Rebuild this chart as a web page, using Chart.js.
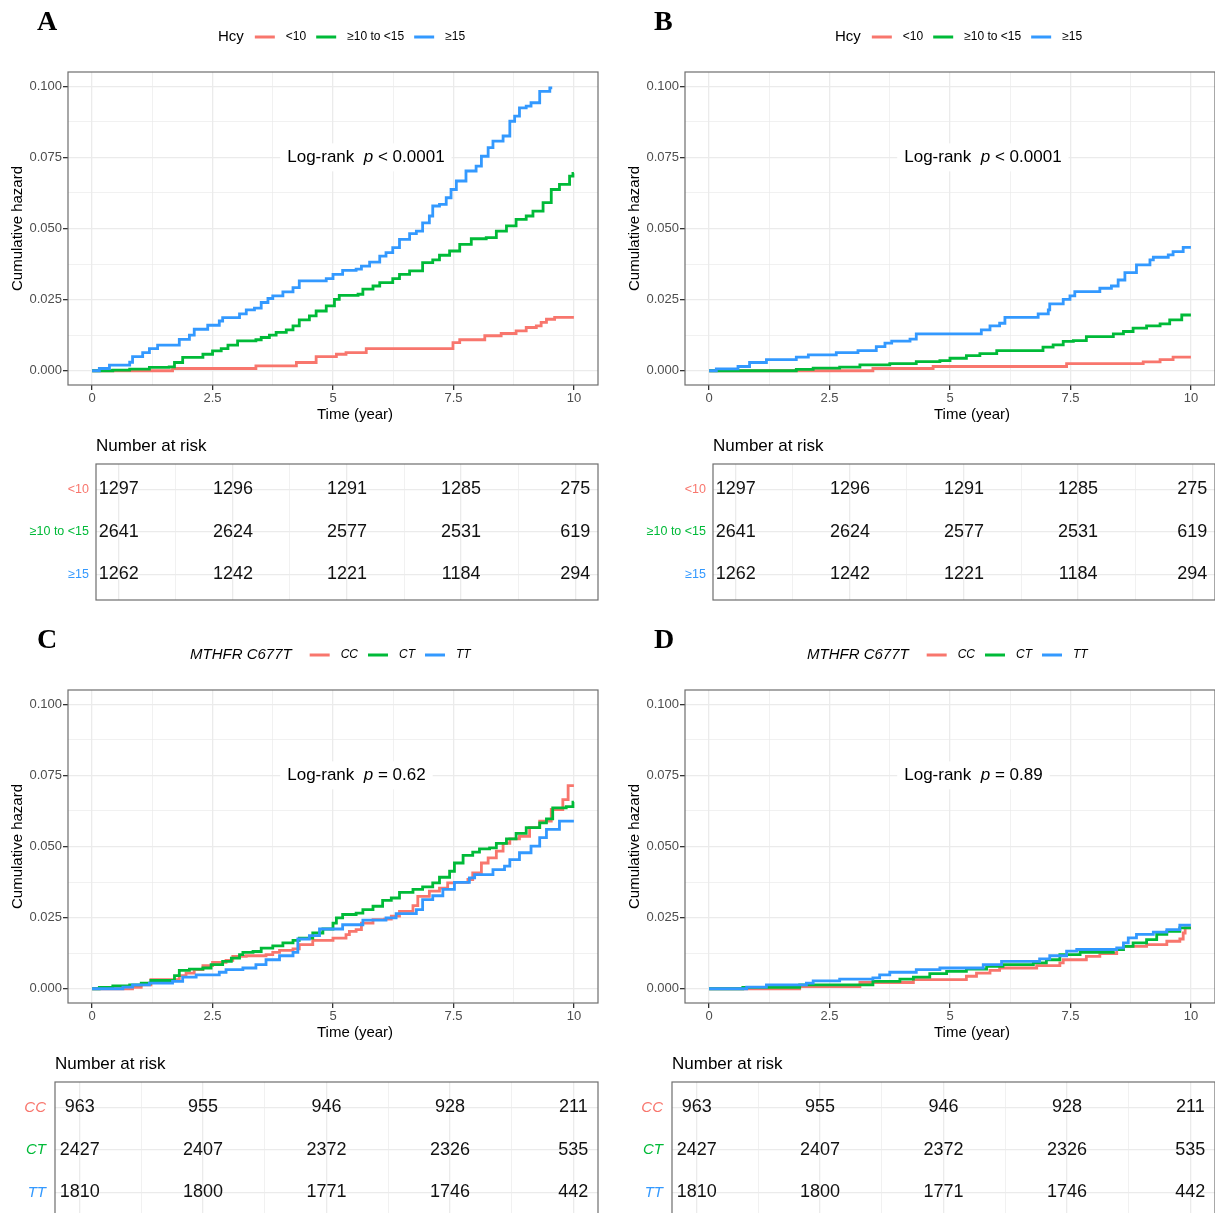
<!DOCTYPE html>
<html>
<head>
<meta charset="utf-8">
<script src="https://cdn.jsdelivr.net/npm/chart.js@4.4.1/dist/chart.umd.min.js"></script>
<style>
  html, body { margin: 0; padding: 0; background: #fff; overflow: hidden; width: 1215px; height: 1213px; }
  canvas { position: absolute; }
</style>
</head>
<body>
<script>
const FONT = '"Liberation Sans", Arial, sans-serif';
const RED = "#F8766D", GREEN = "#00BA38", BLUE = "#3399FF";

// axis ticks (major labelled, minor only gridlines)
const xMajor = [0, 2.5, 5, 7.5, 10];
const xMinor = [1.25, 3.75, 6.25, 8.75];
const xLabels = ["0", "2.5", "5", "7.5", "10"];
const yMajor = [0, 0.025, 0.05, 0.075, 0.1];
const yMinor = [0.0125, 0.0375, 0.0625, 0.0875];
const yLabels = ["0.000", "0.025", "0.050", "0.075", "0.100"];

// group labels
const hcyGroups = ["<10", "≥10 to <15", "≥15"];
const mthfrGroups = ["CC", "CT", "TT"];

// number at risk
const riskTimes = [0, 2.5, 5, 7.5, 10];
const hcyRiskLow = [1297, 1296, 1291, 1285, 275];
const hcyRiskMid = [2641, 2624, 2577, 2531, 619];
const hcyRiskHigh = [1262, 1242, 1221, 1184, 294];
const mthfrRiskCC = [963, 955, 946, 928, 211];
const mthfrRiskCT = [2427, 2407, 2372, 2326, 535];
const mthfrRiskTT = [1810, 1800, 1771, 1746, 442];

// cumulative hazard steps [time, value]
const aLow = [[0,0],[1.67,0.0008],[3.4,0.0017],[4.24,0.0029],[4.65,0.005],[5.07,0.0058],[5.27,0.0064],[5.69,0.0078],[7.49,0.0099],[7.63,0.0109],[8.15,0.0123],[8.49,0.0131],[8.8,0.014],[9.01,0.0152],[9.22,0.0158],[9.32,0.017],[9.43,0.0181],[9.6,0.0188],[10,0.0188]];
const aMid = [[0,0],[0.43,0.0002],[0.78,0.0006],[1.19,0.0012],[1.6,0.0014],[1.71,0.0029],[1.88,0.0047],[2.3,0.0058],[2.5,0.007],[2.68,0.0078],[2.82,0.009],[3.02,0.0105],[3.4,0.0109],[3.51,0.0117],[3.68,0.0125],[3.82,0.0135],[4.03,0.0144],[4.17,0.0158],[4.3,0.0179],[4.51,0.0193],[4.65,0.021],[4.86,0.0228],[5.03,0.0251],[5.13,0.0265],[5.52,0.0269],[5.62,0.0287],[5.83,0.0298],[5.97,0.031],[6.24,0.0324],[6.38,0.0339],[6.59,0.0351],[6.86,0.038],[7.07,0.039],[7.21,0.0406],[7.42,0.0421],[7.63,0.0444],[7.87,0.0464],[8.18,0.0468],[8.39,0.0491],[8.6,0.0509],[8.8,0.0532],[9.01,0.0544],[9.15,0.0561],[9.36,0.0591],[9.53,0.0637],[9.7,0.0655],[9.91,0.0684],[9.98,0.0694],[10,0.0694]];
const aHigh = [[0,0],[0.15,0.0008],[0.36,0.002],[0.78,0.003],[0.84,0.005],[1.05,0.0064],[1.19,0.0078],[1.36,0.009],[1.81,0.011],[2.02,0.0125],[2.12,0.0146],[2.4,0.016],[2.64,0.0175],[2.71,0.0187],[3.06,0.02],[3.2,0.0214],[3.37,0.022],[3.51,0.024],[3.65,0.0254],[3.75,0.0263],[3.96,0.0277],[4.17,0.0292],[4.3,0.0316],[4.86,0.0324],[5.0,0.0339],[5.2,0.0353],[5.48,0.0357],[5.59,0.0368],[5.76,0.0382],[5.97,0.0403],[6.1,0.0415],[6.24,0.0433],[6.38,0.0462],[6.59,0.0482],[6.73,0.0491],[6.86,0.052],[7.0,0.0544],[7.07,0.0579],[7.21,0.0585],[7.35,0.0608],[7.45,0.0637],[7.56,0.0667],[7.76,0.0702],[7.97,0.0719],[8.08,0.0754],[8.22,0.0784],[8.32,0.0807],[8.53,0.0825],[8.67,0.0877],[8.77,0.0895],[8.87,0.0924],[9.01,0.093],[9.11,0.0942],[9.29,0.0982],[9.5,0.0994],[9.55,0.0994]];

const bLow = [[0,0],[3.4,0.0008],[4.65,0.0015],[7.42,0.0025],[9.01,0.0031],[9.36,0.0039],[9.63,0.0048],[10,0.0048]];
const bMid = [[0,0],[1.81,0.0005],[2.16,0.0009],[2.71,0.0013],[3.13,0.0021],[3.75,0.0025],[4.3,0.0032],[4.79,0.0036],[5.0,0.0044],[5.34,0.0053],[5.62,0.006],[5.97,0.0071],[6.93,0.0083],[7.14,0.0091],[7.35,0.0103],[7.56,0.0106],[7.83,0.012],[8.39,0.013],[8.6,0.0138],[8.8,0.015],[9.08,0.0158],[9.36,0.0165],[9.56,0.0179],[9.81,0.0196],[10,0.0196]];
const bHigh = [[0,0],[0.15,0.0007],[0.6,0.0015],[0.84,0.0029],[1.19,0.0039],[1.81,0.0048],[2.06,0.0056],[2.64,0.0064],[3.09,0.0071],[3.47,0.0085],[3.65,0.0097],[3.79,0.0104],[4.17,0.0111],[4.3,0.013],[5.65,0.0144],[5.83,0.0158],[6.03,0.0167],[6.14,0.0188],[6.83,0.02],[7.04,0.0214],[7.07,0.0235],[7.35,0.0251],[7.49,0.0263],[7.59,0.0278],[8.11,0.029],[8.35,0.0298],[8.49,0.0319],[8.63,0.0345],[8.87,0.0372],[9.15,0.039],[9.22,0.0399],[9.53,0.0407],[9.63,0.0419],[9.84,0.0434],[10,0.0434]];

const cCC = [[0,0],[0.84,0.0005],[1.02,0.0014],[1.22,0.0032],[1.81,0.0046],[1.95,0.0055],[2.12,0.0067],[2.3,0.0081],[2.5,0.0093],[2.78,0.01],[2.92,0.0114],[3.2,0.0116],[3.61,0.012],[3.75,0.0128],[3.89,0.0135],[4.17,0.014],[4.3,0.0155],[4.58,0.017],[5.0,0.0178],[5.27,0.019],[5.34,0.0202],[5.48,0.0208],[5.59,0.0231],[5.83,0.0243],[6.07,0.0245],[6.21,0.0255],[6.38,0.0272],[6.66,0.0292],[6.76,0.0325],[7.0,0.0343],[7.21,0.0354],[7.38,0.0372],[7.52,0.0374],[7.8,0.0384],[7.9,0.0407],[8.08,0.0442],[8.22,0.046],[8.39,0.0484],[8.53,0.0511],[8.67,0.0527],[8.87,0.0536],[9.08,0.0566],[9.29,0.0589],[9.53,0.063],[9.77,0.0665],[9.88,0.0714],[10,0.0714]];
const cCT = [[0,0],[0.15,0.0005],[0.43,0.001],[0.78,0.0014],[1.02,0.002],[1.22,0.0029],[1.71,0.0046],[1.81,0.0065],[2.02,0.0069],[2.3,0.0073],[2.47,0.0085],[2.71,0.0096],[2.89,0.0108],[3.06,0.012],[3.13,0.0128],[3.34,0.0131],[3.51,0.0143],[3.75,0.0151],[3.96,0.0161],[4.17,0.017],[4.3,0.0178],[4.58,0.0196],[4.79,0.021],[5.0,0.0231],[5.07,0.0249],[5.2,0.0261],[5.48,0.0266],[5.62,0.0278],[5.83,0.029],[6.03,0.0311],[6.21,0.0319],[6.38,0.0339],[6.66,0.0349],[6.86,0.0358],[7.07,0.0372],[7.21,0.0392],[7.42,0.0413],[7.52,0.0442],[7.7,0.0469],[7.9,0.048],[8.04,0.0492],[8.25,0.0495],[8.39,0.0511],[8.6,0.0527],[8.8,0.0546],[9.01,0.0566],[9.29,0.0583],[9.43,0.0597],[9.56,0.0636],[9.84,0.064],[9.98,0.0656],[10,0.0656]];
const cTT = [[0,0],[0.64,0.0006],[0.84,0.0014],[1.19,0.002],[1.67,0.0026],[1.88,0.0041],[2.16,0.0049],[2.64,0.0058],[2.78,0.0067],[3.13,0.0073],[3.4,0.0085],[3.61,0.0102],[3.89,0.0116],[4.17,0.0128],[4.27,0.0175],[4.51,0.0187],[4.72,0.021],[5.2,0.0225],[5.62,0.0241],[6.1,0.0249],[6.31,0.0264],[6.73,0.0278],[6.86,0.0313],[7.07,0.0327],[7.28,0.0349],[7.52,0.0374],[7.83,0.039],[7.94,0.0401],[8.32,0.0419],[8.56,0.0431],[8.67,0.0454],[8.87,0.0478],[9.11,0.0501],[9.29,0.0531],[9.43,0.056],[9.7,0.0589],[10,0.0589]];

const dCC = [[0,0],[1.88,0.0008],[3.13,0.0022],[4.24,0.0032],[5.34,0.0044],[5.55,0.0055],[5.83,0.0065],[6.03,0.0073],[6.8,0.0081],[7.28,0.0091],[7.35,0.0102],[7.83,0.0114],[8.11,0.0124],[8.46,0.0138],[8.6,0.0149],[9.08,0.0155],[9.5,0.0167],[9.77,0.0175],[9.84,0.0196],[9.88,0.0214],[10,0.0214]];
const dCT = [[0,0],[0.7,0.0005],[1.88,0.0014],[3.4,0.0026],[3.96,0.0034],[4.24,0.0041],[4.58,0.0053],[4.93,0.0061],[5.34,0.0069],[5.76,0.0079],[6.1,0.0085],[6.73,0.0091],[7.0,0.0102],[7.28,0.012],[7.7,0.0128],[8.39,0.0138],[8.6,0.0149],[8.8,0.0161],[9.08,0.0173],[9.29,0.0191],[9.5,0.0202],[9.77,0.0214],[10,0.0214]];
const dTT = [[0,0],[0.78,0.0006],[1.19,0.0014],[2.02,0.002],[2.16,0.0028],[2.71,0.0034],[3.4,0.0038],[3.54,0.0049],[3.75,0.0058],[4.3,0.0067],[4.79,0.0073],[5.69,0.0085],[6.07,0.0096],[6.86,0.0105],[7.07,0.0116],[7.42,0.0132],[7.63,0.0138],[8.46,0.0144],[8.6,0.0161],[8.7,0.0179],[8.87,0.0191],[9.22,0.0199],[9.5,0.0208],[9.77,0.0224],[10,0.0224]];

const panels = [
  { letter: "A", ox: 0, oy: 0, title: "Hcy", italic: false, legendX: 218, titleGap: 11, groups: hcyGroups,
    curves: [aLow, aMid, aHigh], risk: [hcyRiskLow, hcyRiskMid, hcyRiskHigh], tableLeft: 96, pText: " < 0.0001" },
  { letter: "B", ox: 617, oy: 0, title: "Hcy", italic: false, legendX: 218, titleGap: 11, groups: hcyGroups,
    curves: [bLow, bMid, bHigh], risk: [hcyRiskLow, hcyRiskMid, hcyRiskHigh], tableLeft: 96, pText: " < 0.0001" },
  { letter: "C", ox: 0, oy: 618, title: "MTHFR C677T", italic: true, legendX: 190, titleGap: 18, groups: mthfrGroups,
    curves: [cCC, cCT, cTT], risk: [mthfrRiskCC, mthfrRiskCT, mthfrRiskTT], tableLeft: 55, pText: " = 0.62" },
  { letter: "D", ox: 617, oy: 618, title: "MTHFR C677T", italic: true, legendX: 190, titleGap: 18, groups: mthfrGroups,
    curves: [dCC, dCT, dTT], risk: [mthfrRiskCC, mthfrRiskCT, mthfrRiskTT], tableLeft: 55, pText: " = 0.89" }
];
const groupColors = [RED, GREEN, BLUE];

function makeCanvas(left, top, w, h) {
  const c = document.createElement("canvas");
  c.width = w; c.height = h;
  c.style.left = left + "px"; c.style.top = top + "px";
  c.style.width = w + "px"; c.style.height = h + "px";
  document.body.appendChild(c);
  return c;
}

function setTicks(major, minor) {
  return scale => {
    scale.ticks = major.concat(minor).sort((a, b) => a - b)
      .map(v => ({ value: v, major: major.includes(v) }));
  };
}

function gridOpts(withTicks) {
  return {
    color: "#ebebeb",
    lineWidth: c => (c.tick && c.tick.major ? 1.3 : 0.7),
    drawTicks: withTicks,
    tickLength: 5,
    tickColor: c => (c.tick && c.tick.major ? "#333" : "rgba(0,0,0,0)")
  };
}

function plotDeco(p) {
  return {
    id: "deco",
    afterDatasetsDraw(chart) {
      const ctx = chart.ctx;
      const xs = chart.scales.x, ys = chart.scales.y;
      // log-rank label with white box
      const parts = [["Log-rank  ", ""], ["p", "italic "], [p.pText, ""]];
      ctx.save();
      ctx.textBaseline = "middle";
      let w = 0;
      parts.forEach(pt => { ctx.font = pt[1] + "17px " + FONT; w += ctx.measureText(pt[0]).width; });
      let x = xs.getPixelForValue(4.05);
      const y = ys.getPixelForValue(0.075);
      ctx.fillStyle = "#fff";
      ctx.fillRect(x - 7, y - 14, w + 14, 28);
      ctx.fillStyle = "#000";
      parts.forEach(pt => {
        ctx.font = pt[1] + "17px " + FONT;
        ctx.fillText(pt[0], x, y);
        x += ctx.measureText(pt[0]).width;
      });
      ctx.restore();
    },
    afterDraw(chart) {
      const ctx = chart.ctx;
      const a = chart.chartArea;
      ctx.save();
      // panel border
      ctx.strokeStyle = "#6e6e6e";
      ctx.lineWidth = 1.2;
      ctx.strokeRect(a.left, a.top, a.right - a.left, a.bottom - a.top);
      // panel letter
      ctx.fillStyle = "#000";
      ctx.textBaseline = "alphabetic";
      ctx.font = 'bold 28px "Liberation Serif", "Times New Roman", serif';
      ctx.fillText(p.letter, 37, 30);
      // axis titles
      ctx.font = "15px " + FONT;
      ctx.textAlign = "center";
      ctx.textBaseline = "middle";
      ctx.fillText("Time (year)", 355, 415);
      ctx.save();
      ctx.translate(18, (a.top + a.bottom) / 2);
      ctx.rotate(-Math.PI / 2);
      ctx.fillText("Cumulative hazard", 0, 0);
      ctx.restore();
      // legend
      ctx.textAlign = "left";
      let x = p.legendX;
      const y = 37;
      ctx.font = (p.italic ? "italic " : "") + "15px " + FONT;
      ctx.fillText(p.title, x, y);
      x += ctx.measureText(p.title).width + p.titleGap;
      chart.data.datasets.forEach(ds => {
        ctx.strokeStyle = ds.borderColor;
        ctx.lineWidth = 3;
        ctx.beginPath();
        ctx.moveTo(x, y); ctx.lineTo(x + 20, y);
        ctx.stroke();
        x += 31;
        ctx.font = (p.italic ? "italic " : "") + "12px " + FONT;
        ctx.fillStyle = "#000";
        ctx.fillText(ds.label, x, y);
        x += ctx.measureText(ds.label).width + 10;
      });
      ctx.restore();
    }
  };
}

function tableDeco(p) {
  return {
    id: "riskdeco",
    afterDraw(chart) {
      const ctx = chart.ctx;
      const a = chart.chartArea;
      const ys = chart.scales.y;
      ctx.save();
      ctx.strokeStyle = "#6e6e6e";
      ctx.lineWidth = 1.2;
      ctx.strokeRect(a.left, a.top, a.right - a.left, a.bottom - a.top);
      ctx.fillStyle = "#000";
      ctx.textBaseline = "middle";
      ctx.font = "17px " + FONT;
      ctx.fillText("Number at risk", a.left, 16);
      // row labels at the y scale positions
      ctx.textAlign = "right";
      ctx.font = (p.italic ? "italic 15px " : "12.5px ") + FONT;
      p.groups.forEach((g, i) => {
        ctx.fillStyle = groupColors[i];
        ctx.fillText(g, a.left - (p.italic ? 9 : 7), ys.getPixelForValue(i + 1));
      });
      // counts
      ctx.font = "18px " + FONT;
      ctx.textAlign = "center";
      ctx.fillStyle = "#111";
      chart.data.datasets.forEach((ds, i) => {
        chart.getDatasetMeta(i).data.forEach((pt, j) => {
          ctx.fillText(String(p.risk[i][j]), pt.x, pt.y);
        });
      });
      ctx.restore();
    }
  };
}

panels.forEach(p => {
  const plotCanvas = makeCanvas(p.ox, p.oy, 600, 430);
  new Chart(plotCanvas, {
    type: "line",
    data: {
      datasets: p.curves.map((c, i) => ({
        label: p.groups[i],
        data: c.map(d => ({ x: d[0], y: d[1] })),
        borderColor: groupColors[i],
        backgroundColor: groupColors[i],
        borderWidth: 2.8,
        pointRadius: 0,
        stepped: "before",
        fill: false,
        order: 2 - i
      }))
    },
    options: {
      responsive: false,
      animation: false,
      devicePixelRatio: 1,
      events: [],
      layout: { autoPadding: false, padding: { left: 0, top: 72, right: 2, bottom: 0 } },
      plugins: { legend: { display: false }, tooltip: { enabled: false } },
      scales: {
        x: {
          type: "linear", min: -0.5, max: 10.5,
          afterBuildTicks: setTicks(xMajor, xMinor),
          afterFit: s => { s.height = 45; },
          grid: gridOpts(true),
          border: { display: false },
          ticks: {
            autoSkip: false, maxRotation: 0, padding: 1,
            color: "#4d4d4d", font: { family: FONT, size: 13 },
            callback: v => { const k = xMajor.indexOf(v); return k >= 0 ? xLabels[k] : ""; }
          }
        },
        y: {
          type: "linear", min: -0.005, max: 0.105,
          afterBuildTicks: setTicks(yMajor, yMinor),
          afterFit: s => { s.width = 68; },
          grid: gridOpts(true),
          border: { display: false },
          ticks: {
            autoSkip: false, padding: 1,
            color: "#4d4d4d", font: { family: FONT, size: 13 },
            callback: v => { const k = yMajor.indexOf(v); return k >= 0 ? yLabels[k] : ""; }
          }
        }
      }
    },
    plugins: [plotDeco(p)]
  });

  const tableCanvas = makeCanvas(p.ox, p.oy + 430, 600, 180);
  new Chart(tableCanvas, {
    type: "scatter",
    data: {
      datasets: p.risk.map((r, i) => ({
        label: p.groups[i],
        data: riskTimes.map(t => ({ x: t, y: i + 1 })),
        pointRadius: 0
      }))
    },
    options: {
      responsive: false,
      animation: false,
      devicePixelRatio: 1,
      events: [],
      layout: { autoPadding: false, padding: { left: 0, top: 34, right: 2, bottom: 0 } },
      plugins: { legend: { display: false }, tooltip: { enabled: false } },
      scales: {
        x: {
          type: "linear", min: -0.5, max: 10.5,
          afterBuildTicks: setTicks(xMajor, xMinor),
          afterFit: s => { s.height = 10; },
          grid: gridOpts(false),
          border: { display: false },
          ticks: { display: false }
        },
        y: {
          type: "linear", min: 0.4, max: 3.6, reverse: true,
          afterBuildTicks: s => { s.ticks = [1, 2, 3].map(v => ({ value: v, major: true })); },
          afterFit: s => { s.width = p.tableLeft; },
          grid: { color: "#ebebeb", lineWidth: 1.3, drawTicks: false },
          border: { display: false },
          ticks: { display: false }
        }
      }
    },
    plugins: [tableDeco(p)]
  });
});
</script>
</body>
</html>
